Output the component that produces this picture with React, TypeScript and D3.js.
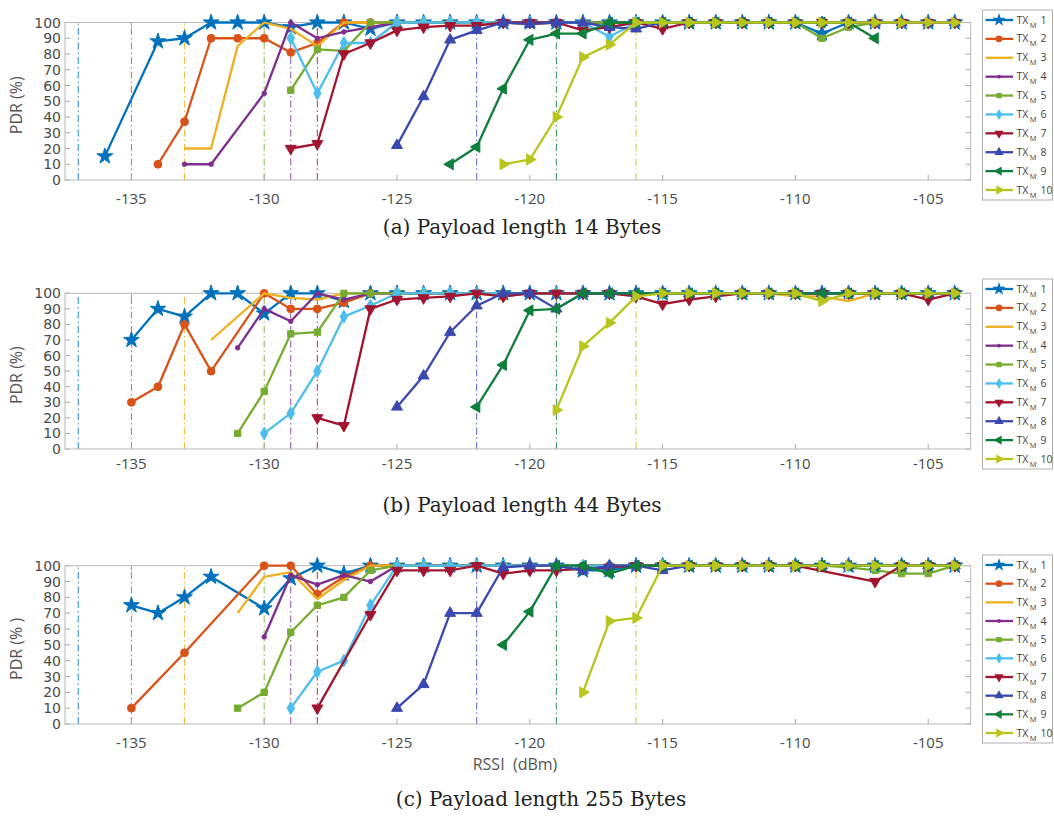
import React from "react";
import * as d3 from "d3";

type P = [number, number][];

const RSSI_TICKS = [-135, -130, -125, -120, -115, -110, -105];
const PDR_TICKS = [0, 10, 20, 30, 40, 50, 60, 70, 80, 90, 100];
const TX_LABELS = ["1", "2", "3", "4", "5", "6", "7", "8", "9", "10"];
const TX_COLORS = ["#0072BD", "#D95319", "#EDB120", "#7E2F8E", "#77AC30", "#4DBEEE", "#A2142F", "#3A48B0", "#0F7F3C", "#B8C51D"];
const TX_MARKERS = ["star", "circle", "none", "dot", "square", "diamond", "tdown", "tup", "tleft", "tright"];
const SENS_RSSI = [-137, -135, -133, -130, -129, -128, -122, -119, -116];
const SENS_COLORS = ["#0072BD", "#D95319", "#EDB120", "#77AC30", "#7E2F8E", "#A2142F", "#3A48B0", "#0F7F3C", "#B8C51D"];
const CAPTIONS = ["(a)  Payload length 14 Bytes", "(b)  Payload length 44 Bytes", "(c)  Payload length 255 Bytes"];

// Payload 14 Bytes
const A1: P = [[-136,15],[-134,88],[-133,90],[-132,100],[-131,100],[-130,100],[-129,97],[-128,100],[-127,100],[-126,96],[-125,100],[-124,100],[-123,100],[-122,100],[-121,100],[-120,100],[-119,100],[-118,100],[-117,100],[-116,100],[-115,100],[-114,100],[-113,100],[-112,100],[-111,100],[-110,100],[-109,93],[-108,100],[-107,100],[-106,100],[-105,100],[-104,100]];
const A2: P = [[-134,10],[-133,37],[-132,90],[-131,90],[-130,90],[-129,81],[-128,87],[-127,100],[-126,100],[-125,100],[-124,100],[-123,100],[-122,100],[-121,100],[-120,99],[-119,100],[-118,100],[-117,100],[-116,100],[-115,100],[-114,100],[-113,100],[-112,100],[-111,100],[-110,100],[-109,100],[-108,100],[-107,100],[-106,100],[-105,100],[-104,100]];
const A3: P = [[-133,20],[-132,20],[-131,85],[-130,100],[-129,96],[-128,85],[-127,100],[-126,100],[-125,100],[-124,100],[-123,100],[-122,100],[-121,100],[-120,100],[-119,100],[-118,100],[-117,100],[-116,100],[-115,100],[-114,100],[-113,100],[-112,100],[-111,100],[-110,100],[-109,100],[-108,100],[-107,100],[-106,100],[-105,100],[-104,100]];
const A4: P = [[-133,10],[-132,10],[-130,55],[-129,100],[-128,90],[-127,94],[-126,97],[-125,100],[-124,100],[-123,100],[-122,100],[-121,100],[-120,100],[-119,100],[-118,100],[-117,100],[-116,100],[-115,100],[-114,100],[-113,100],[-112,100],[-111,100],[-110,100],[-109,100],[-108,100],[-107,100],[-106,100],[-105,100],[-104,100]];
const A5: P = [[-129,57],[-128,83],[-127,82],[-126,100],[-125,100],[-124,100],[-123,100],[-122,100],[-121,100],[-120,100],[-119,100],[-118,100],[-117,100],[-116,100],[-115,100],[-114,100],[-113,100],[-112,100],[-111,100],[-110,100],[-109,90],[-108,97],[-107,100],[-106,100],[-105,100],[-104,100]];
const A6: P = [[-129,90],[-128,55],[-127,87],[-126,87],[-125,100],[-124,100],[-123,100],[-122,100],[-121,100],[-120,100],[-119,100],[-118,100],[-117,91],[-116,100],[-115,100],[-114,100],[-113,100],[-112,100],[-111,100],[-110,100],[-109,100],[-108,100],[-107,100],[-106,100],[-105,100],[-104,100]];
const A7: P = [[-129,20],[-128,23],[-127,80],[-126,87],[-125,95],[-124,97],[-123,98],[-122,98],[-121,100],[-120,100],[-119,100],[-118,95],[-117,97],[-116,100],[-115,96],[-114,100],[-113,100],[-112,100],[-111,100],[-110,100],[-109,100],[-108,100],[-107,100],[-106,100],[-105,100],[-104,100]];
const A8: P = [[-125,22],[-124,53],[-123,89],[-122,95],[-121,100],[-120,99],[-119,100],[-118,100],[-117,97],[-116,96],[-115,100],[-114,100],[-113,100],[-112,100],[-111,100],[-110,100],[-109,100],[-108,100],[-107,100],[-106,100],[-105,100],[-104,100]];
const A9: P = [[-123,10],[-122,21],[-121,58],[-120,89],[-119,93],[-118,93],[-117,100],[-116,100],[-115,100],[-114,100],[-113,100],[-112,100],[-111,100],[-110,100],[-109,100],[-108,100],[-107,90]];
const A10: P = [[-121,10],[-120,13],[-119,40],[-118,78],[-117,86],[-116,100],[-115,100],[-114,100],[-113,100],[-112,100],[-111,100],[-110,100],[-109,100],[-108,100],[-107,100],[-106,100],[-105,100],[-104,100]];

// Payload 44 Bytes
const B1: P = [[-135,70],[-134,90],[-133,85],[-132,100],[-131,100],[-130,87],[-129,100],[-128,100],[-127,95],[-126,100],[-125,100],[-124,100],[-123,100],[-122,100],[-121,100],[-120,100],[-119,100],[-118,100],[-117,100],[-116,100],[-115,100],[-114,100],[-113,100],[-112,100],[-111,100],[-110,100],[-109,100],[-108,100],[-107,100],[-106,100],[-105,100],[-104,100]];
const B2: P = [[-135,30],[-134,40],[-133,80],[-132,50],[-130,100],[-129,90],[-128,90],[-127,94],[-126,100],[-125,100],[-124,100],[-123,100],[-122,100],[-121,98],[-120,100],[-119,100],[-118,100],[-117,100],[-116,100],[-115,100],[-114,100],[-113,100],[-112,100],[-111,100],[-110,100],[-109,100],[-108,100],[-107,100],[-106,100],[-105,100],[-104,100]];
const B3: P = [[-132,70],[-130,100],[-129,97],[-128,96],[-127,100],[-126,100],[-125,100],[-124,100],[-123,100],[-122,100],[-121,100],[-120,100],[-119,100],[-118,100],[-117,100],[-116,100],[-115,100],[-114,100],[-113,100],[-112,100],[-111,100],[-110,98],[-109,98],[-108,95],[-107,100],[-106,100],[-105,100],[-104,100]];
const B4: P = [[-131,65],[-130,90],[-129,82],[-128,100],[-127,96],[-126,100],[-125,100],[-124,100],[-123,100],[-122,100],[-121,100],[-120,100],[-119,100],[-118,100],[-117,100],[-116,100],[-115,100],[-114,100],[-113,100],[-112,100],[-111,100],[-110,100],[-109,100],[-108,100],[-107,100],[-106,100],[-105,100],[-104,100]];
const B5: P = [[-131,10],[-130,37],[-129,74],[-128,75],[-127,100],[-126,100],[-125,100],[-124,100],[-123,100],[-122,100],[-121,100],[-120,100],[-119,100],[-118,100],[-117,100],[-116,100],[-115,100],[-114,100],[-113,100],[-112,100],[-111,100],[-110,100],[-109,100],[-108,100],[-107,100],[-106,100],[-105,100],[-104,100]];
const B6: P = [[-130,10],[-129,23],[-128,50],[-127,85],[-126,92],[-125,100],[-124,100],[-123,100],[-122,100],[-121,100],[-120,100],[-119,100],[-118,100],[-117,100],[-116,100],[-115,100],[-114,100],[-113,100],[-112,100],[-111,100],[-110,100],[-109,100],[-108,100],[-107,100],[-106,100],[-105,100],[-104,100]];
const B7: P = [[-128,20],[-127,15],[-126,90],[-125,96],[-124,97],[-123,98],[-122,100],[-121,98],[-120,100],[-119,100],[-118,100],[-117,100],[-116,98],[-115,93],[-114,96],[-113,98],[-112,100],[-111,100],[-110,100],[-109,100],[-108,100],[-107,100],[-106,100],[-105,96],[-104,100]];
const B8: P = [[-125,27],[-124,47],[-123,75],[-122,92],[-121,100],[-120,100],[-119,90],[-118,100],[-117,100],[-116,100],[-115,100],[-114,100],[-113,100],[-112,100],[-111,100],[-110,100],[-109,100],[-108,100],[-107,100],[-106,100],[-105,100],[-104,100]];
const B9: P = [[-122,27],[-121,54],[-120,89],[-119,90],[-118,100],[-117,100],[-116,100],[-115,100],[-114,100],[-113,100],[-112,100],[-111,100],[-110,100],[-109,100],[-108,100],[-107,100],[-106,100],[-105,100],[-104,100]];
const B10: P = [[-119,25],[-118,66],[-117,81],[-116,98],[-115,100],[-114,100],[-113,100],[-112,100],[-111,100],[-110,100],[-109,95],[-108,100],[-107,100],[-106,100],[-105,100],[-104,100]];

// Payload 255 Bytes
const C1: P = [[-135,75],[-134,70],[-133,80],[-132,93],[-130,73],[-129,92],[-128,100],[-127,95],[-126,100],[-125,100],[-124,100],[-123,100],[-122,100],[-121,100],[-120,100],[-119,100],[-118,97],[-117,97],[-116,100],[-115,100],[-114,100],[-113,100],[-112,100],[-111,100],[-110,100],[-109,100],[-108,100],[-107,100],[-106,100],[-105,100],[-104,100]];
const C2: P = [[-135,10],[-133,45],[-130,100],[-129,100],[-128,82],[-127,93],[-126,100],[-125,100],[-124,100],[-123,100],[-122,100],[-121,100],[-120,100],[-119,100],[-118,100],[-117,100],[-116,100],[-115,100],[-114,100],[-113,100],[-112,100],[-111,100],[-110,100],[-109,100],[-108,100],[-107,100],[-106,100],[-105,100],[-104,100]];
const C3: P = [[-131,70],[-130,93],[-129,96],[-128,79],[-127,91],[-126,100],[-125,100],[-124,100],[-123,100],[-122,100],[-121,100],[-120,100],[-119,100],[-118,100],[-117,100],[-116,100],[-115,100],[-114,100],[-113,100],[-112,100],[-111,100],[-110,100],[-109,100],[-108,100],[-107,100],[-106,100],[-105,100],[-104,100]];
const C4: P = [[-130,55],[-129,94],[-128,88],[-127,94],[-126,90],[-125,100],[-124,100],[-123,100],[-122,100],[-121,100],[-120,100],[-119,100],[-118,100],[-117,100],[-116,100],[-115,100],[-114,100],[-113,100],[-112,100],[-111,100],[-110,100],[-109,100],[-108,100],[-107,100],[-106,100],[-105,100],[-104,100]];
const C5: P = [[-131,10],[-130,20],[-129,58],[-128,75],[-127,80],[-126,97],[-125,100],[-124,100],[-123,100],[-122,100],[-121,100],[-120,100],[-119,100],[-118,100],[-117,100],[-116,100],[-115,100],[-114,100],[-113,100],[-112,100],[-111,100],[-110,100],[-109,100],[-108,99],[-107,97],[-106,95],[-105,95],[-104,100]];
const C6: P = [[-129,10],[-128,33],[-127,40],[-126,75],[-125,100],[-124,100],[-123,100],[-122,100],[-121,100],[-120,100],[-119,100],[-118,100],[-117,100],[-116,100],[-115,100],[-114,100],[-113,100],[-112,100],[-111,100],[-110,100],[-109,100],[-108,100],[-107,100],[-106,100],[-105,100],[-104,100]];
const C7: P = [[-128,10],[-126,69],[-125,97],[-124,97],[-123,97],[-122,100],[-121,95],[-120,97],[-119,97],[-118,98],[-117,99],[-116,100],[-115,100],[-114,100],[-113,100],[-112,100],[-111,100],[-110,100],[-107,90],[-106,100],[-105,100],[-104,100]];
const C8: P = [[-125,10],[-124,25],[-123,70],[-122,70],[-121,99],[-120,100],[-119,100],[-118,97],[-117,100],[-116,100],[-115,97],[-114,100],[-113,100],[-112,100],[-111,100],[-110,100],[-109,100],[-108,100],[-107,100],[-106,100],[-105,100],[-104,100]];
const C9: P = [[-121,50],[-120,71],[-119,100],[-118,100],[-117,95],[-116,100],[-115,100],[-114,100],[-113,100],[-112,100],[-111,100],[-110,100],[-109,100],[-108,100],[-107,100],[-106,100],[-105,100],[-104,100]];
const C10: P = [[-118,20],[-117,65],[-116,67],[-115,100],[-114,100],[-113,100],[-112,100],[-111,100],[-110,100],[-109,100],[-108,100],[-107,100],[-106,100],[-105,100],[-104,100]];

const PANEL_SERIES: P[][] = [
  [A1, A2, A3, A4, A5, A6, A7, A8, A9, A10],
  [B1, B2, B3, B4, B5, B6, B7, B8, B9, B10],
  [C1, C2, C3, C4, C5, C6, C7, C8, C9, C10],
];

const LAYOUT = [
  { top: 22.5, bottom: 180, tickY: 204, legTop: 10, legBottom: 200, capX: 522, capY: 234, ylab: "PDR (%)" },
  { top: 293.3, bottom: 449, tickY: 469, legTop: 279, legBottom: 469, capX: 522, capY: 512, ylab: "PDR (%)" },
  { top: 565.7, bottom: 724, tickY: 748, legTop: 555, legBottom: 743, capX: 541, capY: 806, ylab: "PDR (% )" },
];

const X0 = 65;
const X1 = 970.7;
const FONT = "'Open Sans', 'Noto Sans', sans-serif";

function markerPath(kind: string): { d: string; rot: number } | null {
  const s = d3.symbol();
  switch (kind) {
    case "star": return { d: s.type(d3.symbolStar).size(78)()!, rot: 0 };
    case "circle": return { d: s.type(d3.symbolCircle).size(48)()!, rot: 0 };
    case "dot": return { d: s.type(d3.symbolCircle).size(16)()!, rot: 0 };
    case "square": return { d: s.type(d3.symbolSquare).size(40)()!, rot: 0 };
    case "diamond": return { d: s.type(d3.symbolDiamond).size(48)()!, rot: 0 };
    case "tup": return { d: s.type(d3.symbolTriangle).size(52)()!, rot: 0 };
    case "tdown": return { d: s.type(d3.symbolTriangle).size(52)()!, rot: 180 };
    case "tleft": return { d: s.type(d3.symbolTriangle).size(52)()!, rot: -90 };
    case "tright": return { d: s.type(d3.symbolTriangle).size(52)()!, rot: 90 };
    default: return null;
  }
}

function Panel({ idx }: { idx: number }) {
  const L = LAYOUT[idx];
  const x = d3.scaleLinear().domain([-137.5, -103.4]).range([X0, X1]);
  const y = d3.scaleLinear().domain([0, 100]).range([L.bottom, L.top]);
  const line = d3.line<[number, number]>().x((d) => x(d[0])).y((d) => y(d[1]));
  const series = PANEL_SERIES[idx];
  const legStep = (L.legBottom - L.legTop - 20) / 9;
  return (
    <g>
      <rect x={X0} y={L.top} width={X1 - X0} height={L.bottom - L.top} fill="#fff" stroke="none" />
      {SENS_RSSI.map((r, i) => (
        <line key={"s" + i} x1={x(r)} x2={x(r)} y1={y(0)} y2={y(100)} stroke={SENS_COLORS[i]} strokeWidth={1} strokeDasharray="7,3,1.5,3" opacity={0.85} />
      ))}
      {PDR_TICKS.map((t) => (
        <g key={"yt" + t}>
          <line x1={X0} x2={X0 + 5} y1={y(t)} y2={y(t)} stroke="#aaa" />
          <line x1={X1 - 5} x2={X1} y1={y(t)} y2={y(t)} stroke="#aaa" />
          <text x={61} y={y(t)} dy="0.36em" textAnchor="end" fontSize={14} fill="#4a4a4a" fontFamily="'DejaVu Sans', sans-serif">{t}</text>
        </g>
      ))}
      {RSSI_TICKS.map((t) => (
        <g key={"xt" + t}>
          <line x1={x(t)} x2={x(t)} y1={L.bottom} y2={L.bottom - 5} stroke="#aaa" />
          <line x1={x(t)} x2={x(t)} y1={L.top} y2={L.top + 5} stroke="#aaa" />
          <text x={x(t)} y={L.tickY} textAnchor="middle" fontSize={15} fill="#4a4a4a" fontFamily={FONT}>{t}</text>
        </g>
      ))}
      <rect x={X0} y={L.top} width={X1 - X0} height={L.bottom - L.top} fill="none" stroke="#b8b8b8" strokeWidth={1} />
      {series.map((pts, si) => {
        const m = markerPath(TX_MARKERS[si]);
        return (
          <g key={"ser" + si}>
            <path d={line(pts)!} fill="none" stroke={TX_COLORS[si]} strokeWidth={2.3} strokeLinejoin="round" />
            {m && pts.map((p, pi) => (
              <path key={pi} d={m.d} transform={`translate(${x(p[0])},${y(p[1])}) rotate(${m.rot})`} fill={TX_COLORS[si]} stroke={TX_COLORS[si]} strokeWidth={1} />
            ))}
          </g>
        );
      })}
      <text transform={`translate(22,${(L.top + L.bottom) / 2 + 4}) rotate(-90)`} textAnchor="middle" fontSize={16} fill="#555" fontFamily={FONT}>{L.ylab}</text>
      <rect x={982.5} y={L.legTop} width={70} height={L.legBottom - L.legTop} fill="#fff" stroke="#b0b0b0" strokeWidth={1} />
      {TX_LABELS.map((lab, i) => {
        const ly = L.legTop + 10 + i * legStep;
        const m = markerPath(TX_MARKERS[i]);
        return (
          <g key={"lg" + i}>
            <line x1={985.5} x2={1013} y1={ly} y2={ly} stroke={TX_COLORS[i]} strokeWidth={2.3} />
            {m && <path d={m.d} transform={`translate(999,${ly}) rotate(${m.rot}) scale(0.85)`} fill={TX_COLORS[i]} />}
            <text x={1016.5} y={ly + 3.5} fontSize={10.5} fill="#444" fontFamily={FONT}>
              TX<tspan fontSize={7.5} dy={4} dx={1.5}>M</tspan>
            </text>
            <text x={1040.5} y={ly + 3.5} fontSize={10.5} fill="#444" fontFamily={FONT}>{lab}</text>
          </g>
        );
      })}
      <text x={L.capX} y={L.capY} textAnchor="middle" fontSize={20} fill="#222" fontFamily="'DejaVu Serif', serif">{CAPTIONS[idx]}</text>
    </g>
  );
}

export default function App() {
  return (
    <svg width={1054} height={819} style={{ position: "absolute", left: 0, top: 0, background: "#fff" }}>
      <rect x={0} y={0} width={1054} height={819} fill="#fff" />
      <Panel idx={0} />
      <Panel idx={1} />
      <Panel idx={2} />
      <text x={515} y={770} textAnchor="middle" fontSize={16} fill="#555" fontFamily={FONT} style={{ whiteSpace: "pre" }}>{"RSSI  (dBm)"}</text>
    </svg>
  );
}
